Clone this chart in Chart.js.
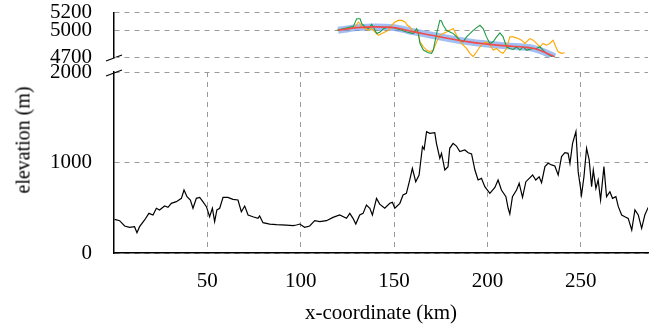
<!DOCTYPE html>
<html>
<head>
<meta charset="utf-8">
<script src="https://cdn.jsdelivr.net/npm/chart.js@4.4.0/dist/chart.umd.min.js"></script>
<style>
  body { margin: 0; background: #fff; }
  #wrap { position: relative; width: 662px; height: 329px; }
  canvas { position: absolute; left: 0; top: 0; }
  #ylab {
    position: absolute; left: 23px; top: 140px;
    transform: translate(-50%, -50%) rotate(-90deg);
    font: 20px "Liberation Serif", serif; white-space: nowrap; color: #000;
  }
</style>
</head>
<body>
<div id="wrap">
  <canvas id="bottomChart" width="662" height="329"></canvas>
  <canvas id="topChart" width="662" height="329"></canvas>
  <div id="ylab">elevation (m)</div>
</div>
<script>
// upper panel: fitted curves and two noisy profiles
const fitKm   = [120, 125, 130, 140, 150, 155, 160, 170, 180, 190, 200, 210, 220, 225, 230, 236];
const blueElev = [5000, 5015, 5030, 5038, 5030, 5010, 4985, 4945, 4905, 4870, 4845, 4825, 4810, 4795, 4760, 4700];
const redElev  = [5000, 5015, 5030, 5038, 5030, 5010, 4985, 4945, 4905, 4870, 4845, 4825, 4810, 4795, 4760, 4702];

const greenKm = [119.4, 128.2, 130.0, 131.8, 132.7, 134.5, 136.3, 138.0, 138.9, 140.7, 142.5, 144.3, 147.0, 149.6,
  151.4, 153.2, 156.8, 160.3, 162.1, 163.0, 163.9, 165.7, 168.3, 170.1, 171.0, 172.8, 174.5, 175.4, 176.3, 178.1,
  179.9, 181.7, 183.5, 185.3, 187.0, 188.8, 190.6, 192.4, 194.2, 196.0, 197.7, 199.5, 201.3, 203.1, 204.9, 206.7,
  208.4, 210.2, 212.0, 213.8, 215.6, 217.4, 219.1, 220.9, 224.5, 226.3, 228.1, 229.8, 231.6, 235.2];
const greenElev = [5000, 5044, 5130, 5130, 5074, 5037, 5019, 5067, 5037, 4963, 4981, 5019, 5037, 5030,
  5019, 5007, 4981, 4963, 5019, 4963, 4852, 4778, 4748, 4741, 4778, 4963, 5111, 5104, 5056, 5000,
  4981, 4963, 4926, 4889, 4870, 4926, 4963, 5000, 5030, 5056, 5019, 4926, 4852, 4870, 4926, 4970,
  4926, 4815, 4796, 4785, 4815, 4778, 4815, 4778, 4796, 4796, 4815, 4778, 4741, 4696];

const orangeKm = [119.4, 126.4, 129.1, 130.9, 131.8, 132.7, 134.5, 136.3, 138.0, 139.8, 141.6, 143.4, 145.2, 147.0,
  148.7, 150.5, 152.3, 154.1, 155.9, 157.1, 158.5, 160.3, 162.1, 163.0, 163.9, 165.7, 167.4, 169.2, 171.0, 172.8,
  174.5, 176.3, 178.1, 179.9, 181.7, 182.6, 184.3, 186.1, 188.8, 190.6, 192.4, 194.2, 196.0, 197.7, 199.5, 201.3,
  203.1, 204.9, 206.7, 208.4, 210.2, 212.0, 213.8, 216.5, 218.3, 220.1, 222.7, 224.5, 226.3, 228.1, 229.8, 231.6,
  233.4, 235.2, 237.0, 237.9, 239.7, 241.4];
const orangeElev = [5000, 5019, 5037, 5093, 5074, 5037, 5019, 5000, 5019, 4981, 4944, 4963, 4981, 5000,
  5056, 5093, 5111, 5111, 5093, 5056, 5037, 4981, 5000, 4963, 4870, 4815, 4778, 4759, 4778, 4870,
  4944, 4963, 4981, 5000, 5019, 4981, 4907, 4852, 4796, 4741, 4704, 4759, 4815, 4852, 4870, 4833,
  4778, 4796, 4759, 4741, 4796, 4926, 4926, 4907, 4889, 4852, 4907, 4889, 4852, 4815, 4852, 4833,
  4852, 4889, 4796, 4759, 4741, 4748];

// lower panel: terrain profile
const profileKm = [0.3, 3.0, 5.7, 8.3, 11.0, 12.3, 13.7, 16.4, 18.7, 20.9, 22.7, 24.4, 27.1, 28.9, 30.7, 33.4,
  36.1, 37.5, 39.1, 40.9, 42.3, 44.1, 45.9, 47.6, 49.5, 51.2, 52.7, 53.9, 55.1, 56.6, 58.4, 61.0, 63.7, 66.4,
  68.2, 70.0, 71.8, 74.4, 77.1, 78.0, 79.8, 83.4, 87.0, 92.3, 95.9, 97.7, 99.5, 102.1, 104.8, 107.5, 110.2,
  113.8, 117.3, 120.9, 124.5, 126.3, 128.0, 129.5, 131.6, 133.4, 135.2, 137.0, 138.4, 140.6, 142.3, 145.0,
  147.7, 149.1, 150.4, 153.1, 154.8, 156.6, 158.4, 159.8, 161.6, 163.4, 165.2, 166.1, 167.4, 169.1, 171.8,
  172.7, 174.5, 175.4, 177.2, 178.9, 179.8, 181.6, 183.4, 185.2, 187.9, 189.7, 191.5, 193.3, 195.0, 196.8,
  198.6, 201.3, 204.0, 205.7, 207.5, 209.9, 211.1, 212.0, 213.4, 215.6, 217.0, 218.8, 220.6, 222.4, 224.2,
  225.9, 227.7, 229.0, 230.8, 232.5, 234.4, 236.1, 237.9, 239.7, 241.5, 243.2, 244.2, 245.6, 247.4, 248.6,
  250.4, 251.7, 253.1, 254.5, 255.8, 256.7, 258.1, 259.3, 260.6, 262.4, 263.8, 265.6, 267.0, 268.8, 270.1,
  271.9, 273.6, 275.4, 277.3, 279.0, 280.8, 282.6, 284.3, 286.1];
const profileElev = [372, 357, 298, 284, 291, 225, 291, 365, 438, 420, 494, 476, 519, 505, 549, 567,
  604, 696, 622, 586, 494, 604, 615, 567, 512, 401, 494, 346, 476, 494, 615, 615, 593, 586,
  456, 519, 420, 401, 383, 409, 335, 320, 313, 309, 302, 309, 320, 284, 298, 357, 346,
  357, 394, 420, 383, 438, 383, 320, 420, 438, 530, 494, 420, 604, 540, 494,
  550, 560, 494, 549, 641, 659, 807, 936, 788, 862, 1175, 1145, 1341, 1322, 1330,
  1212, 1046, 1101, 917, 954, 1157, 1212, 1182, 1120, 1138, 1108, 1094, 917, 807, 825,
  733, 659, 725, 807, 696, 622, 494, 431, 622, 696, 770, 615, 788, 825, 862,
  807, 843, 777, 954, 991, 973, 962, 862, 1065, 1108, 1101, 991, 1212, 1341, 899,
  641, 843, 1157, 1028, 733, 917, 714, 807, 586, 954, 622, 677, 604, 622, 512,
  420, 401, 383, 254, 476, 420, 273, 420, 504];

const topTicks = [4700, 5000, 5200];
const bottomTicks = [0, 1000, 2000];
const xTicks = [50, 100, 150, 200, 250];

const pts = (xs, ys) => xs.map((x, i) => ({ x: x, y: ys[i] }));

Chart.defaults.font.family = '"Liberation Serif", serif';
Chart.defaults.font.size = 21;
Chart.defaults.color = '#000';

const gridColor = '#9a9a9a';

const breakMarks = {
  id: 'breakMarks',
  afterDraw(chart) {
    const ctx = chart.ctx;
    ctx.save();
    ctx.strokeStyle = '#000';
    ctx.lineWidth = 1.2;
    ctx.beginPath();
    ctx.moveTo(106, 61); ctx.lineTo(122, 55);
    ctx.moveTo(106, 76); ctx.lineTo(122, 70);
    ctx.stroke();
    ctx.restore();
  }
};

// y axis: labels pushed left by an invisible tick instead of tick padding
const yAxis = (min, max, values) => ({
  min: min, max: max,
  afterFit: s => { s.width = 114; },
  afterBuildTicks: s => { s.ticks = values.map(v => ({ value: v })); },
  ticks: { padding: 2, autoSkip: false, callback: v => String(v), font: { size: 21, lineHeight: 1 } },
  grid: { color: gridColor, lineWidth: 1, drawTicks: true, tickLength: 20, tickColor: 'rgba(0,0,0,0)' },
  border: { color: '#000', width: 1.5, dash: [5, 5] }
});

new Chart(document.getElementById('topChart'), {
  type: 'line',
  data: {
    datasets: [
      { data: pts(fitKm, redElev), borderColor: '#f24b4b', borderWidth: 1.6, pointRadius: 0, tension: 0.4 },
      { data: pts(greenKm, greenElev), borderColor: '#1f9a45', borderWidth: 1.1, pointRadius: 0 },
      { data: pts(orangeKm, orangeElev), borderColor: '#ffa500', borderWidth: 1.1, pointRadius: 0 },
      { data: pts(fitKm, blueElev), borderColor: 'rgba(100,149,237,0.6)', borderWidth: 7, pointRadius: 0, tension: 0.4 }
    ]
  },
  options: {
    responsive: false,
    animation: false,
    layout: { padding: { top: 12, bottom: 272, left: 0, right: 14 } },
    plugins: { legend: { display: false }, tooltip: { enabled: false } },
    scales: {
      x: { type: 'linear', min: 0, max: 286, display: false },
      y: yAxis(4700, 5200, topTicks)
    }
  }
});

new Chart(document.getElementById('bottomChart'), {
  type: 'line',
  data: {
    datasets: [
      { data: pts(profileKm, profileElev), borderColor: '#000', borderWidth: 1.2, pointRadius: 0 }
    ]
  },
  options: {
    responsive: false,
    animation: false,
    layout: { padding: { top: 72, bottom: 0, left: 0, right: 14 } },
    plugins: { legend: { display: false }, tooltip: { enabled: false } },
    scales: {
      x: {
        type: 'linear', min: 0, max: 286,
        afterFit: s => { s.height = 76; },
        afterBuildTicks: s => { s.ticks = xTicks.map(v => ({ value: v })); },
        ticks: { padding: 18, autoSkip: false, font: { size: 21, lineHeight: 1 } },
        grid: { color: gridColor, lineWidth: 1, drawTicks: false },
        border: { color: '#000', width: 1.5, dash: [5, 5] },
        title: { display: true, text: 'x-coordinate (km)', font: { size: 21 }, padding: { top: 0, bottom: 3 } }
      },
      y: yAxis(0, 2000, bottomTicks)
    }
  },
  plugins: [breakMarks]
});
</script>
</body>
</html>
